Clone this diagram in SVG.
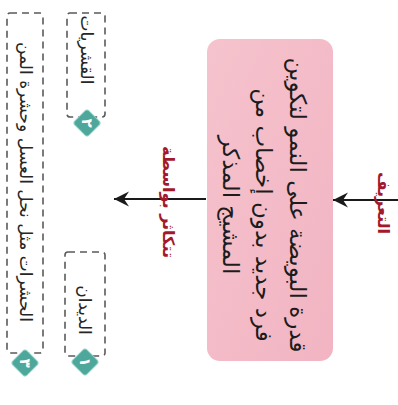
<svg xmlns="http://www.w3.org/2000/svg" width="398" height="405" viewBox="0 0 398 405">
  <style>
    .ar { font-family: "DejaVu Sans", "Noto Sans", sans-serif; direction: rtl; text-anchor: middle; dominant-baseline: central; }
    .main { font-size: 23px; fill: #1c1c1c; }
    .lbl { font-size: 16px; fill: #a3192b; font-weight: bold; }
    .item { font-size: 17px; fill: #262626; }
    .dash { fill: none; stroke: #5a5a5a; stroke-width: 1.6; stroke-dasharray: 7 5; }
    .badge { fill: #4ea79b; stroke: #8fd0c4; stroke-width: 1; }
    .num { font-family: "DejaVu Sans", sans-serif; font-size: 15px; fill: #ffffff; font-weight: bold; text-anchor: middle; dominant-baseline: central; }
    .conn { stroke: #1a1a1a; stroke-width: 2; fill: none; }
  </style>
  <defs>
    <linearGradient id="pink" x1="0" y1="0" x2="1" y2="1">
      <stop offset="0" stop-color="#f5c3cd"/>
      <stop offset="1" stop-color="#f2b4c2"/>
    </linearGradient>
    <marker id="arr" viewBox="0 0 17 16" refX="16" refY="8" markerWidth="17" markerHeight="16" markerUnits="userSpaceOnUse" orient="auto">
      <path d="M16,8 L1,0.5 L6,8 L1,15.5 Z" fill="#1a1a1a"/>
    </marker>
  </defs>
  <rect width="398" height="405" fill="#ffffff"/>

  <g id="connectors">
    <line class="conn" x1="398" y1="200" x2="333" y2="200" marker-end="url(#arr)"/>
    <line class="conn" x1="206" y1="199" x2="114" y2="199" marker-end="url(#arr)"/>
  </g>

  <g id="label-definition">
    <text class="ar lbl" transform="translate(383,203) rotate(90)">التعريف</text>
  </g>

  <g id="definition">
    <rect x="207" y="39" width="126" height="322" rx="13" fill="url(#pink)"/>
    <text class="ar main" transform="translate(298,205) rotate(90)">قدرة البويضة على النمو لتكوين</text>
    <text class="ar main" transform="translate(264,215) rotate(90)">فرد جديد بدون إخصاب من</text>
    <text class="ar main" transform="translate(231,205) rotate(90)">المشيج المذكر</text>
  </g>

  <g id="label-reproduce">
    <text class="ar lbl" transform="translate(168,202) rotate(90)">تتكاثر بواسطة</text>
  </g>

  <g id="item-1">
    <rect class="dash" x="65" y="252" width="40" height="104" rx="3"/>
    <text class="ar item" transform="translate(85,310) rotate(90)">الديدان</text>
    <rect class="badge" x="75" y="352" width="20" height="20" rx="3" transform="rotate(45 85 362)"/>
    <text class="num" transform="translate(85,362) rotate(90)">١</text>
  </g>

  <g id="item-2">
    <rect class="dash" x="67" y="13" width="38" height="104" rx="3"/>
    <text class="ar item" transform="translate(87,50) rotate(90)">القشريات</text>
    <rect class="badge" x="77" y="113" width="20" height="20" rx="3" transform="rotate(45 87 123)"/>
    <text class="num" transform="translate(87,123) rotate(90)">٢</text>
  </g>

  <g id="item-3">
    <rect class="dash" x="7" y="13" width="36" height="340" rx="3"/>
    <text class="ar item" transform="translate(26,182) rotate(90)">الحشرات مثل نحل العسل وحشرة المن</text>
    <rect class="badge" x="15" y="353" width="20" height="20" rx="3" transform="rotate(45 25 363)"/>
    <text class="num" transform="translate(25,363) rotate(90)">٣</text>
  </g>
</svg>
